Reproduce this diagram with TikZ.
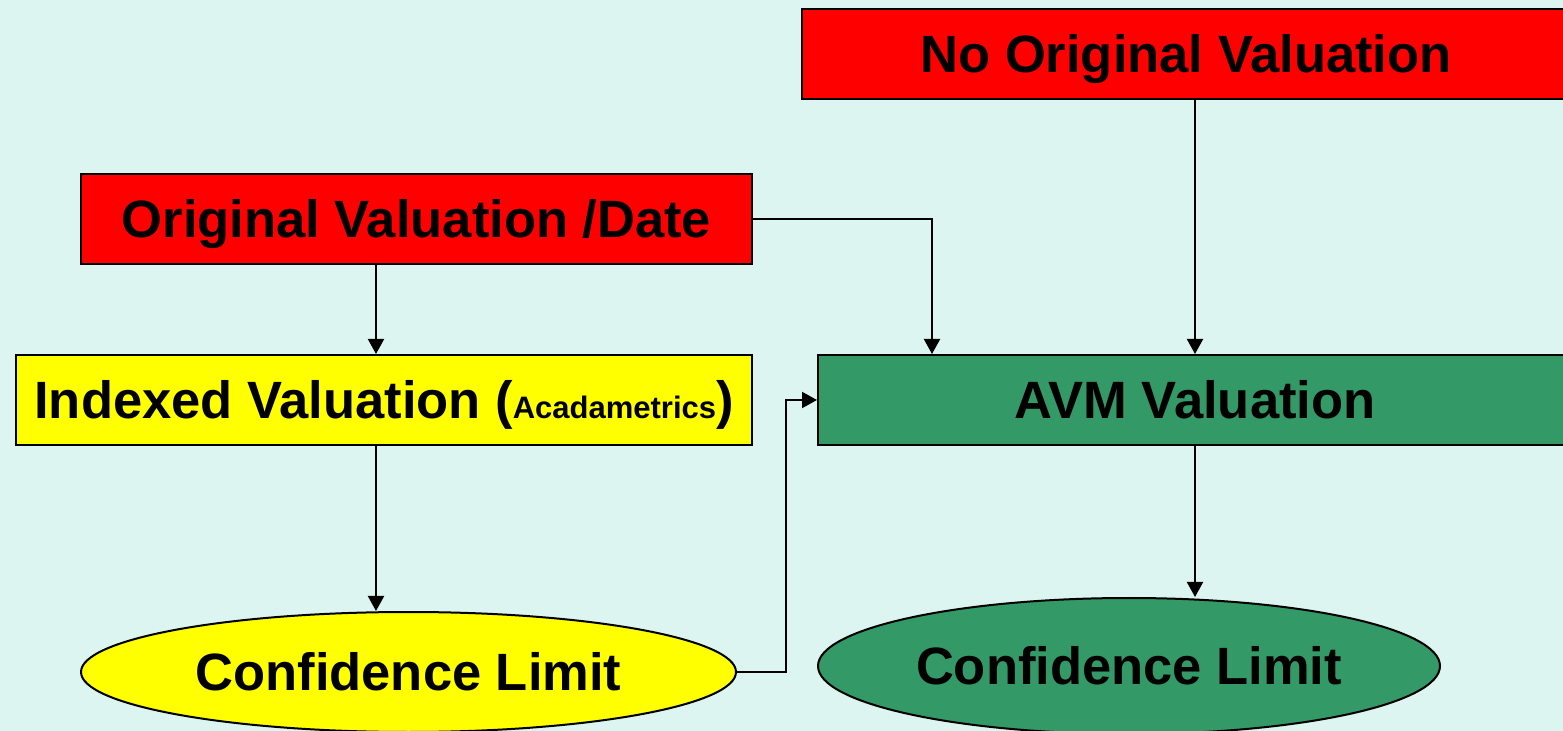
\documentclass[tikz,border=0pt]{standalone}
\usepackage{fontspec}
\setmainfont{Liberation Sans}
\usetikzlibrary{shapes.geometric,arrows.meta}
\definecolor{bgc}{RGB}{221,245,240}
\definecolor{redc}{RGB}{255,0,0}
\definecolor{yelc}{RGB}{255,255,0}
\definecolor{grnc}{RGB}{51,153,102}
\begin{document}
\begin{tikzpicture}[x=0.5pt,y=-0.5pt,
  lbl/.style={font=\fontsize{26.25pt}{30pt}\selectfont\bfseries, text height=18.8pt, text depth=0pt, inner sep=0pt},
  box/.style={lbl, draw=black, line width=1pt, rectangle},
  ell/.style={lbl, draw=black, line width=1pt, ellipse},
  arr/.style={line width=1pt, -{Triangle[width=8pt,length=7.5pt]}},
  conn/.style={line width=1pt}]
\useasboundingbox (0,0) rectangle (1563,731);
\clip (0,0) rectangle (1563,731);
\fill[bgc] (0,0) rectangle (1563,731);
\node[box, fill=redc, minimum width=384pt, minimum height=45pt] (noorig) at (1186,54) {No Original Valuation};
\node[box, fill=redc, minimum width=335.5pt, minimum height=45pt] (orig) at (416.5,219) {Original Valuation /Date};
\node[box, fill=yelc, minimum width=368pt, minimum height=45pt] (indexed) at (384,400) {Indexed Valuation ({\fontsize{15.5pt}{18pt}\selectfont Acadametrics})};
\node[box, fill=grnc, minimum width=377pt, minimum height=45pt] (avm) at (1195,400) {AVM Valuation};
\node[ell, fill=yelc, minimum width=327.5pt, minimum height=60pt] (yel) at (408.5,672) {Confidence Limit};
\node[ell, fill=grnc, minimum width=311pt, minimum height=68pt] (grn) at (1129,666) {Confidence Limit};
\draw[arr] (orig.south -| 376,0) -- (indexed.north -| 376,0);
\draw[arr] (orig.east) -| (avm.north -| 932,0);
\draw[arr] (noorig.south -| avm.north) -- (avm.north);
\draw[arr] (indexed.south -| 376,0) -- (yel.north -| 376,0);
\draw[arr] (yel.east) -- ++(49,0) |- (avm.west);
\draw[arr] (avm.south) -- (grn.north -| avm.south);
\end{tikzpicture}
\end{document}
